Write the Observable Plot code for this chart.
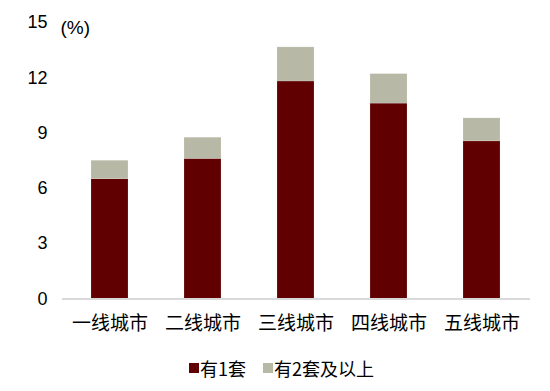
<!DOCTYPE html>
<html>
<head>
<meta charset="utf-8">
<script src="https://cdn.jsdelivr.net/npm/d3@7"></script>
<script src="https://cdn.jsdelivr.net/npm/@observablehq/plot@0.6"></script>
<style>
  body { margin: 0; background: #fff; font-family: "Liberation Sans", "Noto Sans CJK SC", sans-serif; }
  #legend { display: flex; align-items: center; height: 46px; padding-left: 189px; font-size: 18px; color: #000; box-sizing: border-box; }
  #legend .item { display: flex; align-items: center; margin-right: 17px; }
  #legend .sw { width: 10px; height: 10px; margin-right: 1px; }
</style>
</head>
<body>
<div id="chart"></div>
<script>
const categories = ["一线城市", "二线城市", "三线城市", "四线城市", "五线城市"];
const seriesNames = ["有1套", "有2套及以上"];
const oneSet = [6.5, 7.6, 11.8, 10.6, 8.55];
const twoPlus = [1.0, 1.15, 1.85, 1.6, 1.25];
const yTicks = [0, 3, 6, 9, 12, 15];
const colors = ["#600000", "#b8b8a6"];

const data = [];
categories.forEach((c, i) => {
  data.push({category: c, series: seriesNames[0], value: oneSet[i]});
  data.push({category: c, series: seriesNames[1], value: twoPlus[i]});
});

const chart = Plot.plot({
  width: 550,
  height: 345,
  marginLeft: 62,
  marginRight: 20,
  marginTop: 22,
  marginBottom: 46.5,
  style: {fontFamily: '"Liberation Sans", "Noto Sans CJK SC", sans-serif', fontSize: "18px", color: "#000", background: "#fff"},
  x: {domain: categories, paddingInner: 0.6, paddingOuter: 0.3, label: null},
  y: {domain: [0, 15], ticks: yTicks, label: null},
  color: {domain: seriesNames, range: colors},
  marks: [
    Plot.barY(data, {x: "category", y: "value", fill: "series", order: seriesNames, stroke: "#ffffff", strokeOpacity: 0.25, strokeWidth: 0.6}),
    Plot.ruleY([0], {stroke: "#d9d9d9", strokeWidth: 2}),
    Plot.axisX({tickSize: 0, tickPadding: 17, fontSize: 19, fontFamily: '"Noto Sans CJK SC", sans-serif'}),
    Plot.axisY({ticks: yTicks, tickSize: 0, tickPadding: 15, fontSize: 18}),
    Plot.text(["(%)"], {frameAnchor: "top-left", dx: -2, dy: -2, textAnchor: "start", fontSize: 19, text: d => d})
  ]
});
document.getElementById("chart").appendChild(chart);

const legend = document.createElement("div");
legend.id = "legend";
seriesNames.forEach((s, i) => {
  const item = document.createElement("div");
  item.className = "item";
  const sw = document.createElement("span");
  sw.className = "sw";
  sw.style.background = colors[i];
  const t = document.createElement("span");
  t.textContent = s;
  t.style.fontFamily = '"Noto Sans CJK SC", sans-serif';
  item.appendChild(sw);
  item.appendChild(t);
  legend.appendChild(item);
});
document.getElementById("chart").appendChild(legend);
</script>
</body>
</html>
